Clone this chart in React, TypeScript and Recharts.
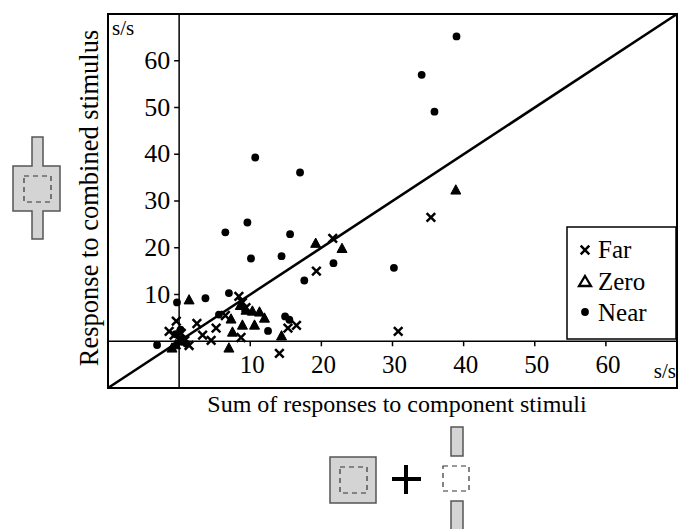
import React from 'react';
import {
  ScatterChart,
  Scatter,
  XAxis,
  YAxis,
  ReferenceLine,
  ReferenceArea,
  ReferenceDot,
  Legend,
} from 'recharts';

// [sum of component responses, response to combined stimulus] in s/s
const farPoints = [
  [35.4, 26.5], [30.8, 2.1], [21.6, 22.0], [19.3, 15.0], [14.1, -2.6],
  [8.4, 9.6], [8.9, 8.3], [9.4, 7.2], [8.7, 0.8], [16.5, 3.4], [15.3, 2.8],
  [5.2, 2.8], [4.5, 0.2], [3.3, 1.3], [2.5, 3.8], [1.4, -0.9], [-0.4, 4.3],
  [-1.4, 2.1], [-0.7, 1.3], [0.3, 1.7], [0.8, 0.2], [6.5, 5.5],
];

const zeroPoints = [
  [38.9, 32.3], [19.2, 20.9], [22.9, 19.8], [1.4, 8.8], [7.3, 4.7],
  [8.9, 3.4], [10.6, 3.4], [7.5, 1.9], [7.0, -1.5], [10.3, 6.4], [11.3, 6.2],
  [12.0, 4.9], [9.4, 6.6], [14.4, 1.1], [-1.0, -1.5], [8.6, 7.6], [0.0, 0.0],
  [-0.5, -0.8],
];

const nearPoints = [
  [39.0, 65.2], [34.1, 57.0], [35.9, 49.1], [10.7, 39.3], [17.0, 36.1],
  [9.6, 25.4], [6.5, 23.3], [15.6, 22.9], [10.1, 17.7], [14.4, 18.2],
  [21.7, 16.7], [17.6, 13.0], [30.2, 15.7], [7.0, 10.3], [3.7, 9.2],
  [-0.3, 8.3], [5.6, 5.7], [12.5, 2.2], [14.9, 5.3], [15.5, 4.6],
  [-3.1, -0.8], [0.5, 0.5], [-0.5, 1.5], [1.0, -0.5], [0.2, 2.5],
];

const X_TICKS = [10, 20, 30, 40, 50, 60];
const Y_TICKS = [10, 20, 30, 40, 50, 60];
const DOMAIN = [-10, 70];

const FONT = '"Liberation Serif", "Times New Roman", serif';
const GRAY = '#d4d4d4';
const INK = '#000';

const toXY = (pts: number[][]) => pts.map(([x, y]) => ({ x, y }));

const Cross = ({ cx, cy }: any) => {
  const s = 4.3;
  return (
    <path
      d={`M${cx - s},${cy - s}L${cx + s},${cy + s}M${cx - s},${cy + s}L${cx + s},${cy - s}`}
      stroke={INK}
      strokeWidth={2.5}
      fill="none"
    />
  );
};

const Tri = ({ cx, cy }: any) => (
  <path
    d={`M${cx},${cy - 5.5}L${cx + 5},${cy + 3.8}L${cx - 5},${cy + 3.8}Z`}
    fill={INK}
    stroke={INK}
    strokeWidth={1}
  />
);

const Dot = ({ cx, cy }: any) => <circle cx={cx} cy={cy} r={3.9} fill={INK} />;

const xTick = (label: number) => (p: any) => (
  <g>
    <line x1={p.cx} y1={p.cy} x2={p.cx} y2={p.cy + 5} stroke={INK} strokeWidth={1.5} />
    <text x={p.cx + 2} y={p.cy + 32} textAnchor="middle" fontSize={25} fontFamily={FONT} fill={INK}>
      {label}
    </text>
  </g>
);

const yTick = (label: number) => (p: any) => (
  <g>
    <line x1={p.cx} y1={p.cy} x2={p.cx - 5} y2={p.cy} stroke={INK} strokeWidth={1.5} />
    <text x={p.cx - 9} y={p.cy + 8} textAnchor="end" fontSize={26} fontFamily={FONT} fill={INK}>
      {label}
    </text>
  </g>
);

const unitTopLeft = (p: any) => (
  <text x={p.cx + 4} y={p.cy + 21} fontSize={21} fontFamily={FONT} fill={INK}>
    s/s
  </text>
);

const unitBottomRight = (p: any) => (
  <text x={p.cx - 1} y={p.cy + 37} textAnchor="end" fontSize={21} fontFamily={FONT} fill={INK}>
    s/s
  </text>
);

const LegendBox = () => (
  <svg width={111} height={114} style={{ display: 'block' }}>
    <rect x={1} y={1} width={109} height={112} fill="#fff" stroke={INK} strokeWidth={1.5} />
    <Cross cx={19} cy={24} />
    <path d="M19,50L25,60L13,60Z" fill="none" stroke={INK} strokeWidth={2.3} />
    <Dot cx={19} cy={86} />
    <text x={32} y={32} fontSize={25} fontFamily={FONT} fill={INK}>Far</text>
    <text x={32} y={64} fontSize={25} fontFamily={FONT} fill={INK}>Zero</text>
    <text x={32} y={95} fontSize={25} fontFamily={FONT} fill={INK}>Near</text>
  </svg>
);

export default function App() {
  return (
    <div style={{ position: 'absolute', left: 0, top: 0, width: 679, height: 529, background: '#fff', fontFamily: FONT }}>
      <ScatterChart width={679} height={529} margin={{ top: 14, right: 2, bottom: 141, left: 108 }}>
        <XAxis type="number" dataKey="x" domain={DOMAIN} allowDataOverflow hide />
        <YAxis type="number" dataKey="y" domain={DOMAIN} allowDataOverflow hide />
        <ReferenceArea x1={-10} x2={70} y1={-10} y2={70} fill="none" stroke={INK} strokeWidth={2} />
        <ReferenceLine x={0} stroke={INK} strokeWidth={1.5} />
        <ReferenceLine y={0} stroke={INK} strokeWidth={1.5} />
        <ReferenceLine
          segment={[{ x: -10, y: -10 }, { x: 70, y: 70 }]}
          stroke={INK}
          strokeWidth={2.6}
        />
        {X_TICKS.map((t) => (
          <ReferenceDot key={`x${t}`} x={t} y={0} shape={xTick(t)} />
        ))}
        {Y_TICKS.map((t) => (
          <ReferenceDot key={`y${t}`} x={0} y={t} shape={yTick(t)} />
        ))}
        <ReferenceDot x={-10} y={70} shape={unitTopLeft} />
        <ReferenceDot x={70} y={0} shape={unitBottomRight} />
        <Scatter name="Far" data={toXY(farPoints)} shape={Cross} isAnimationActive={false} />
        <Scatter name="Zero" data={toXY(zeroPoints)} shape={Tri} isAnimationActive={false} />
        <Scatter name="Near" data={toXY(nearPoints)} shape={Dot} isAnimationActive={false} />
        <Legend
          layout="vertical"
          align="center"
          verticalAlign="middle"
          content={LegendBox}
          wrapperStyle={{ left: 566, top: 226, width: 111, height: 114 }}
        />
      </ScatterChart>
      <svg
        width={679}
        height={529}
        style={{ position: 'absolute', left: 0, top: 0, pointerEvents: 'none' }}
      >
        <text
          x={89}
          y={198}
          transform="rotate(-90, 89, 198)"
          textAnchor="middle"
          dominantBaseline="central"
          fontSize={26.5}
          fontFamily={FONT}
          fill={INK}
        >
          Response to combined stimulus
        </text>
        <text x={397} y={412} textAnchor="middle" fontSize={24} fontFamily={FONT} fill={INK}>
          Sum of responses to component stimuli
        </text>

        {/* left icon: combined stimulus */}
        <path
          d="M32,137H43V166H60V211H43V239H32V211H13V166H32Z"
          fill={GRAY}
          stroke="#555"
          strokeWidth={1.5}
        />
        <rect x={24} y={176} width={27} height={26} fill="none" stroke="#333" strokeWidth={1.2} strokeDasharray="5 4" />

        {/* bottom icons: components */}
        <rect x={330} y={457} width={46} height={46} fill={GRAY} stroke="#555" strokeWidth={1.5} />
        <rect x={340} y={467} width={27} height={26} fill="none" stroke="#333" strokeWidth={1.2} strokeDasharray="5 4" />
        <line x1={392} y1={479} x2={421} y2={479} stroke={INK} strokeWidth={4} />
        <line x1={406} y1={465} x2={406} y2={494} stroke={INK} strokeWidth={4} />
        <rect x={451} y={427} width={12} height={29} fill={GRAY} stroke="#555" strokeWidth={1.5} />
        <rect x={443} y={466} width={26} height={25} fill="none" stroke="#333" strokeWidth={1.2} strokeDasharray="5 4" />
        <rect x={451} y={501} width={12} height={32} fill={GRAY} stroke="#555" strokeWidth={1.5} />
      </svg>
    </div>
  );
}
